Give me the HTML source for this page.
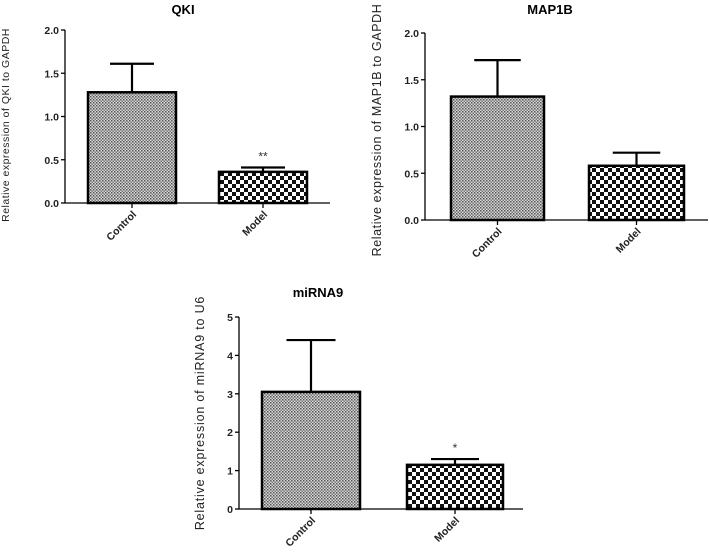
<!DOCTYPE html>
<html><head><meta charset="utf-8"><style>
body{margin:0;background:#fff}
svg{display:block;font-family:"Liberation Sans",Arial,sans-serif}
</style></head><body>
<svg id="c" width="709" height="557" viewBox="0 0 709 557">
<defs>
<pattern id="fine" width="3" height="3" patternUnits="userSpaceOnUse"><rect width="3" height="3" fill="#d8d8d8"/><rect width="1.5" height="1.5" fill="#555"/><rect x="1.5" y="1.5" width="1.5" height="1.5" fill="#777"/></pattern>
<pattern id="check" width="8" height="8" patternUnits="userSpaceOnUse"><rect width="8" height="8" fill="#fff"/><rect width="4" height="4" fill="#111"/><rect x="4" y="4" width="4" height="4" fill="#111"/></pattern>
</defs>
</svg>
<script>
const categories = ["Control","Model"];
const qkiValues = [1.28, 0.36];
const qkiErrors = [1.61, 0.41];
const qkiSig = ["", "**"];
const qkiTicks = ["0.0","0.5","1.0","1.5","2.0"];
const mapValues = [1.32, 0.58];
const mapErrors = [1.71, 0.72];
const mapSig = ["", ""];
const mapTicks = ["0.0","0.5","1.0","1.5","2.0"];
const mirValues = [3.05, 1.15];
const mirErrors = [4.4, 1.3];
const mirSig = ["", "*"];
const mirTicks = ["0","1","2","3","4","5"];

const svg = document.getElementById('c');
const NS = 'http://www.w3.org/2000/svg';
function mk(tag, attrs, parent){const e=document.createElementNS(NS,tag);for(const k in attrs)e.setAttribute(k,attrs[k]);(parent||svg).appendChild(e);return e;}

function chart(o){
  const g = mk('g',{});
  
  
  const ymax = parseFloat(o.ticks[o.ticks.length-1]);
  const y = v => o.y0 - (v/ymax)*(o.y0-o.y1);
  const t = mk('text',{x:o.tx,y:o.ty,'text-anchor':'middle','font-size':13,'font-weight':'bold'},g);
  t.textContent = o.title;
  
  
  const yl = mk('line',{x1:o.ax,y1:o.y1,x2:o.ax,y2:o.y0,stroke:'#000','stroke-width':1.3},g);
  
  
  const xl = mk('line',{x1:o.ax,y1:o.y0,x2:o.axEnd,y2:o.y0,stroke:'#000','stroke-width':1.3},g);
  
  
  o.ticks.forEach(tk=>{
    const v=parseFloat(tk), yy=y(v);
    mk('line',{x1:o.ax-4,y1:yy,x2:o.ax,y2:yy,stroke:'#000','stroke-width':1.3},g);
    const tl = mk('text',{x:o.ax-6,y:yy+4,'text-anchor':'end','font-size':10.5,'font-weight':'bold',fill:'#222'},g);
    tl.textContent = tk;
    
    
  });
  const yt = mk('text',{transform:`translate(${o.ylx},${o.ylc}) rotate(-90)`,'text-anchor':'middle','font-size':o.ylfs,'letter-spacing':o.ls,fill:'#222'},g);
  yt.textContent = o.ylabel;
  
  
  categories.forEach((c,i)=>{
    const [x1,x2] = o.bars[i];
    const cx=(x1+x2)/2, top=y(o.vals[i]), et=y(o.errs[i]);
    const eb = mk('line',{x1:cx,y1:et,x2:cx,y2:top,stroke:'#000','stroke-width':2.2},g);
    
    
    mk('line',{x1:cx-(x2-x1)/4,y1:et,x2:cx+(x2-x1)/4,y2:et,stroke:'#000','stroke-width':2.2},g);
    const r = mk('rect',{x:x1,y:top,width:x2-x1,height:o.y0-top,fill:i===0?'url(#fine)':'url(#check)',stroke:'#000','stroke-width':2.5},g);
    
    
    mk('line',{x1:cx,y1:o.y0,x2:cx,y2:o.y0+5,stroke:'#000','stroke-width':1.3},g);
    const xlab = mk('text',{transform:`translate(${cx+5},${o.y0+12}) rotate(-45)`,'text-anchor':'end','font-size':10.5,'font-weight':'bold',fill:'#222'},g);
    xlab.textContent = c;
    
    
    if(o.sig[i]){
      const s = mk('text',{x:cx,y:et-7,'text-anchor':'middle','font-size':12,fill:'#333'},g);
      s.textContent = o.sig[i];
      
      
    }
  });
}
chart({name:'qki-chart',title:'QKI',tx:183,ty:14,ax:65,axEnd:330,y0:203,y1:30,ticks:qkiTicks,vals:qkiValues,errs:qkiErrors,sig:qkiSig,bars:[[88,176],[219,307]],ylabel:'Relative expression of QKI to GAPDH',ylx:9,ylc:125,ylfs:10.5,ls:0.5});
chart({name:'map1b-chart',title:'MAP1B',tx:550,ty:14,ax:425,axEnd:708,y0:220,y1:33,ticks:mapTicks,vals:mapValues,errs:mapErrors,sig:mapSig,bars:[[451,544],[589,684]],ylabel:'Relative expression of MAP1B to GAPDH',ylx:381,ylc:130,ylfs:12.5,ls:0.6});
chart({name:'mirna9-chart',title:'miRNA9',tx:318,ty:297,ax:239,axEnd:523,y0:509,y1:317,ticks:mirTicks,vals:mirValues,errs:mirErrors,sig:mirSig,bars:[[262,360],[407,503]],ylabel:'Relative expression of miRNA9 to U6',ylx:204,ylc:413,ylfs:12.5,ls:0.8});
</script>
</body></html>
